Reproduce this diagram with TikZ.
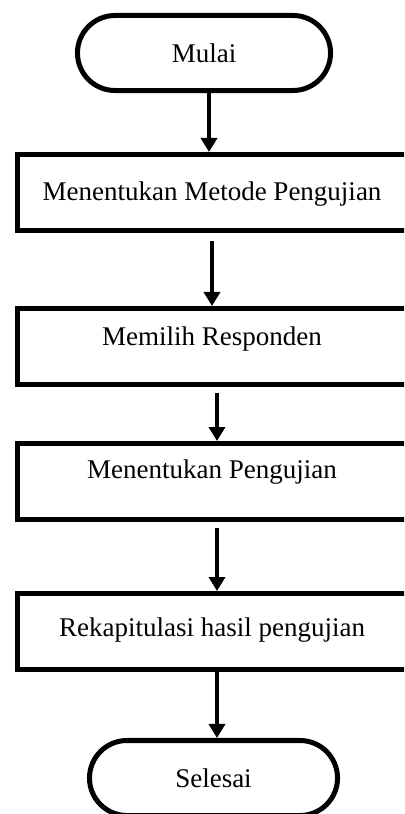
\documentclass[tikz,border=0pt]{standalone}
\usepackage{fontspec}
\setmainfont{Liberation Serif}
\usetikzlibrary{arrows.meta,calc}
\newcommand{\teksalur}{\fontsize{19.2pt}{23pt}\selectfont}
\begin{document}
\begin{tikzpicture}[x=0.025cm, y=-0.025cm,
        kotak/.style={draw, line width=0.125cm, minimum width=10.25cm, minimum height=1.9cm, inner sep=0pt, anchor=north west},
        terminal/.style={draw, line width=0.125cm, rounded corners=0.9375cm, minimum height=1.875cm, inner sep=0pt, font=\teksalur},
        teks/.style={anchor=base, inner sep=0pt, font=\teksalur},
        panah/.style={-{Triangle[width=0.4cm,length=0.35cm]}, line width=0.1cm}]

                \useasboundingbox (0,0) rectangle (404,814);
                \clip (0,0) rectangle (404,814);

                \node [terminal, minimum width=6.325cm] (mulai) at (204,53) {Mulai};

                \node [kotak] (b1) at (15,152) {};
                \node [teks] (t1) at (212,200) {Menentukan Metode Pengujian};

                \node [kotak] (b2) at (15,306) {};
                \node [teks] (t2) at (212,345) {Memilih Responden};

                \node [kotak] (b3) at (15,441) {};
                \node [teks] (t3) at (212,478) {Menentukan Pengujian};

                \node [kotak] (b4) at (15,591) {};
                \node [teks] (t4) at (212,636) {Rekapitulasi hasil pengujian};

                \node [terminal, minimum width=6.2cm] (selesai) at (213.5,778) {Selesai};

                \draw [panah] ($(mulai.south)+(5,0)$) -- ($(mulai.south |- b1.north)+(5,0)$);
                \draw [panah] ($(t1.base |- b1.south)+(0,8)$) -- (t1.base |- b2.north);
                \draw [panah] ($(t2.base |- b2.south)+(5,6)$) -- ($(t2.base |- b3.north)+(5,0)$);
                \draw [panah] ($(t3.base |- b3.south)+(5,6)$) -- ($(t3.base |- b4.north)+(5,0)$);
                \draw [panah] ($(t4.base |- b4.south)+(5,0)$) -- ($(t4.base |- selesai.north)+(5,0)$);

            \end{tikzpicture}
\end{document}
